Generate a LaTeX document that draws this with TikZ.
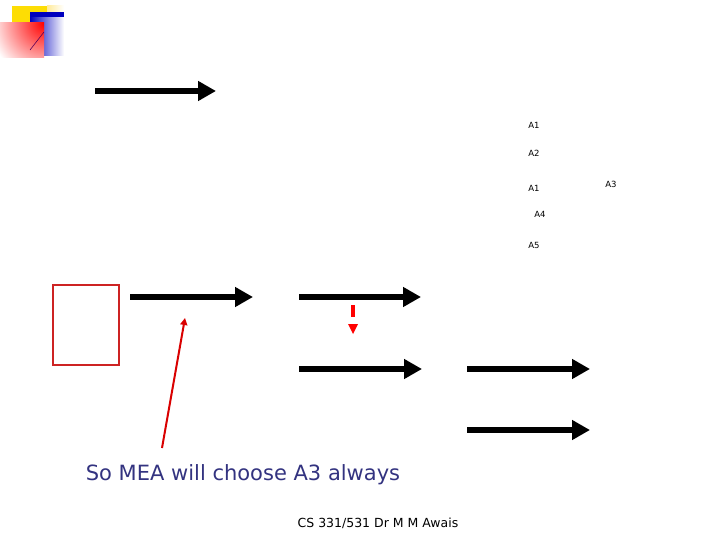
\documentclass[tikz,border=0pt]{standalone}
\usepackage{fontspec}
\setmainfont{DejaVu Sans}
\usetikzlibrary{arrows.meta}
\definecolor{meablue}{RGB}{51,51,128}
\definecolor{boxred}{RGB}{205,35,35}

\begin{document}
\begin{tikzpicture}[x=1pt,y=-1pt,
    bigarrow/.style={line width=5.5pt,-{Triangle[length=18pt,width=19pt]}},
    pointer/.style={red!85!black,line width=2pt,-{Triangle[length=7pt,width=7pt]}},
    alabel/.style={font=\fontsize{8.5}{9}\selectfont,inner sep=0pt}]
      \useasboundingbox (0,0) rectangle (720,540);
      % logo
      \fill[yellow!80!orange] (12,6) rectangle (47,24);
      \shade[left color=yellow!60!orange!40,right color=white] (47,6) rectangle (64,24);
      \fill[blue!75!black] (30,12) rectangle (64,18);
      \shade[left color=blue!75!black,right color=white] (30,18) rectangle (64,56);
      \begin{scope}
        \clip (0,23) rectangle (44,58);
        \shade[inner color=red,outer color=white] (44,23) circle (55);
      \end{scope}
      \draw[violet!70!black,line width=0.6pt] (30,50) -- (44,32);
      % arrows
      \coordinate (a0) at (95,91);   \coordinate (b0) at (216,91);
      \coordinate (a1) at (130,297); \coordinate (b1) at (253,297);
      \coordinate (a2) at (299,297); \coordinate (b2) at (421,297);
      \coordinate (a3) at (299,369); \coordinate (b3) at (422,369);
      \coordinate (a4) at (467,369); \coordinate (b4) at (590,369);
      \coordinate (a5) at (467,430); \coordinate (b5) at (590,430);
      \foreach \i in {0,...,5}
        \draw[bigarrow] (a\i) -- (b\i);
      % labels
      \node[alabel] (l1) at (534,125) {A1};
      \node[alabel] (l2) at (534,153) {A2};
      \node[alabel] (l3) at (534,188) {A1};
      \node[alabel] (l4) at (540,214) {A4};
      \node[alabel] (l5) at (534,245) {A5};
      \node[alabel] (l6) at (611,184) {A3};
      % state box
      \node[draw=boxred,line width=1.2pt,minimum width=66pt,minimum height=80pt,inner sep=0pt] (box) at (86,325) {};
      % red dashed pointer
      \coordinate (d1) at (353,305);
      \coordinate (d2) at (353,334);
      \draw[red,line width=4pt] (d1) -- (353,317);
      \fill[red] (348,324) -- (358,324) -- (d2) -- cycle;
      % caption
      \node[text=meablue,font=\fontsize{21}{24}\selectfont,inner sep=0pt] (msg) at (243,475) {So MEA will choose A3 always};
      \coordinate (p1) at (162,448);
      \coordinate (p2) at (185,318);
      \draw[pointer] (p1) -- (p2);
      \node[font=\fontsize{12.5}{14}\selectfont,inner sep=0pt] (foot) at (378,523) {CS 331/531 Dr M M Awais};
\end{tikzpicture}
\end{document}
